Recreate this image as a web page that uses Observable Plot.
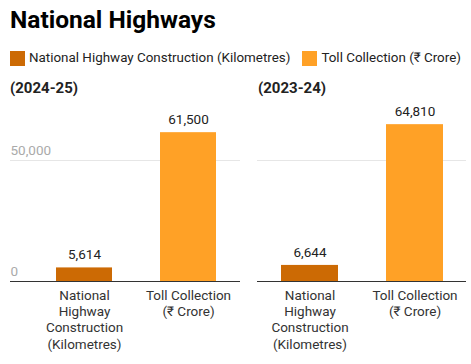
<!DOCTYPE html>
<html>
<head>
<meta charset="utf-8">
<script src="https://cdn.jsdelivr.net/npm/d3@7"></script>
<script src="https://cdn.jsdelivr.net/npm/@observablehq/plot@0.6"></script>
<style>
  html, body { margin: 0; padding: 0; background: #fff; }
  body { font-family: Roboto, "Noto Sans", sans-serif; }
  #wrap { position: relative; width: 471px; height: 364px; overflow: hidden; }
  .title { position: absolute; left: 10px; top: 5px; font-size: 24.5px; font-weight: 700; color: #000; line-height: 30px; white-space: nowrap; }
  .legend { position: absolute; left: 10px; top: 49px; display: flex; align-items: center; font-size: 13.4px; color: #222; white-space: nowrap; line-height: 18px; }
  .legend .item { display: flex; align-items: center; margin-right: 12px; }
  .legend .sw { width: 15px; height: 15px; margin-right: 4px; }
  .facet { position: absolute; top: 78px; font-size: 15px; font-weight: 700; color: #222; line-height: 20px; white-space: nowrap; }
  .panel { position: absolute; top: 100px; }
</style>
</head>
<body>
<div id="wrap">
  <div class="title">National Highways</div>
  <div class="legend" id="legend"></div>
  <div class="facet" id="f0" style="left:10px"></div>
  <div class="facet" id="f1" style="left:258px"></div>
  <div class="panel" id="p0" style="left:0px"></div>
  <div class="panel" id="p1" style="left:240px"></div>
</div>
<script>
const categories = ["National Highway Construction (Kilometres)", "Toll Collection (₹ Crore)"];
const axisLabels = ["National\nHighway\nConstruction\n(Kilometres)", "Toll Collection\n(₹ Crore)"];
const periods = ["(2024-25)", "(2023-24)"];
const values2024 = [5614, 61500];
const values2023 = [6644, 64810];
const colors = ["#CC6A04", "#FFA126"];
const yTicks = [0, 50000];

// legend
const legend = document.getElementById("legend");
categories.forEach((c, i) => {
  const it = document.createElement("div");
  it.className = "item";
  it.innerHTML = `<div class="sw" style="background:${colors[i]}"></div><span>${c}</span>`;
  legend.appendChild(it);
});
document.getElementById("f0").textContent = periods[0];
document.getElementById("f1").textContent = periods[1];

function panel(values, opts) {
  const data = categories.map((c, i) => ({cat: c, value: values[i], label: axisLabels[i]}));
  const marks = [
    Plot.ruleY([50000], {stroke: "#e6e6e6", strokeWidth: 1, insetLeft: opts.ext}),
    Plot.barY(data, {x: "cat", y: "value", fill: "cat"}),
    Plot.text(data, {x: "cat", y: "value", text: d => d3.format(",")(d.value), dy: -13, fontSize: 13.5, fill: "#222"}),
    Plot.text(data, {x: "cat", y: 0, text: "label", lineAnchor: "top", dy: 7, fontSize: 13.5, fill: "#333", lineHeight: 1.2}),
    Plot.ruleY([0], {stroke: "#333", strokeWidth: 1.2, insetLeft: opts.ext})
  ];
  if (opts.ticks) {
    marks.push(Plot.text(yTicks, {y: d => d, text: d => d3.format(",")(d), frameAnchor: "left", dx: opts.ext, dy: -10, textAnchor: "start", fontSize: 13.5, fill: "#aaa"}));
  }
  return Plot.plot({
    width: opts.width,
    height: 264,
    marginLeft: opts.marginLeft,
    marginRight: opts.marginRight,
    marginTop: 0,
    marginBottom: 83,
    style: {fontFamily: "Roboto, 'Noto Sans', sans-serif", background: "transparent", overflow: "visible"},
    x: {domain: categories, paddingInner: 0.46, paddingOuter: 0.22, axis: null},
    y: {domain: [0, 50000], range: [181, 60], axis: null},
    color: {domain: categories, range: colors},
    marks
  });
}

document.getElementById("p0").appendChild(panel(values2024, {width: 240, marginLeft: 33, marginRight: 0, ext: -23, ticks: true}));
document.getElementById("p1").appendChild(panel(values2023, {width: 231, marginLeft: 17, marginRight: 5, ext: 0, ticks: false}));
</script>
</body>
</html>
